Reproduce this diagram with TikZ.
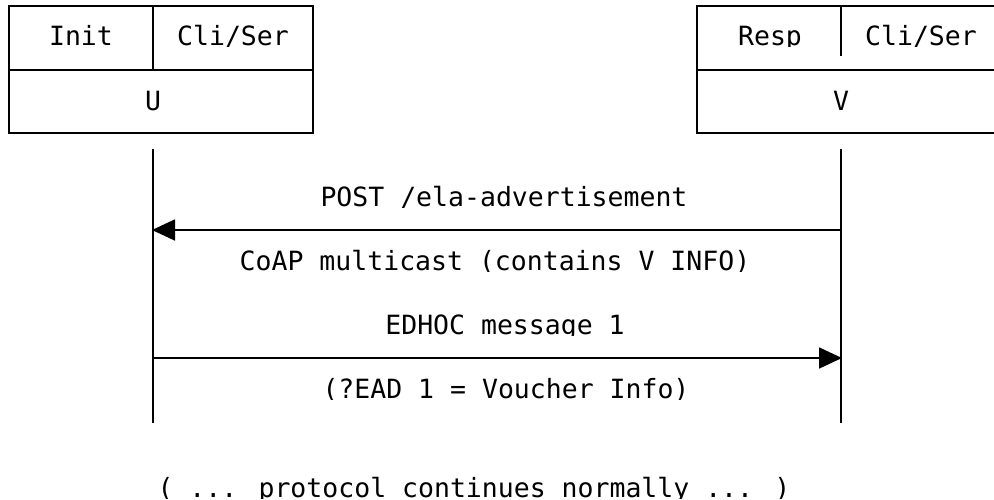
\documentclass[tikz,border=0pt]{standalone}
\usepackage{fontspec}
\newfontfamily\monofont{DejaVu Sans Mono}
\usetikzlibrary{arrows.meta}
\tikzset{
  wire/.style={line width=1.8pt, line cap=rect},
  msg/.style={line width=1.8pt, -{Triangle[length=23pt,width=21pt]}, shorten >=-1pt},
  lbl/.style={inner sep=0pt, anchor=base, font=\monofont\fontsize{26.5}{30}\selectfont},
}
\begin{document}
\begin{tikzpicture}[x=1pt,y=-1pt]
\useasboundingbox (0,0) rectangle (994,499);
\clip (0,0) rectangle (994,499);

% participant U
\draw[wire] (9,6) rectangle (313,133);
\draw[wire] (9,70) -- (313,70);
\draw[wire] (153,6) -- (153,70);

% participant V (runs off the right edge)
\draw[wire] (1010,6) -- (697,6) -- (697,133) -- (1010,133);
\draw[wire] (697,70) -- (1010,70);
\draw[wire] (841,6) -- (841,55);

% lifelines
\coordinate (utop) at (153,149);
\coordinate (ubot) at (153,423);
\coordinate (vtop) at (841,149);
\coordinate (vbot) at (841,423);
\draw[line width=1.8pt] (utop) -- (ubot);
\draw[line width=1.8pt] (vtop) -- (vbot);

% messages
\coordinate (u1) at (153,230);
\coordinate (v1) at (841,230);
\coordinate (u2) at (153,358);
\coordinate (v2) at (841,358);
\draw[msg] (v1) -- (u1);
\draw[msg] (u2) -- (v2);

% labels, cut off at their baselines
\begin{scope}
\clip (0,18) rectangle (994,46)
      (0,84) rectangle (994,111)
      (0,180) rectangle (994,207)
      (0,244) rectangle (994,271)
      (0,308) rectangle (994,335)
      (0,372) rectangle (994,399)
      (0,470) rectangle (994,498);
\node[lbl] (init)  at (81,45)   {Init};
\node[lbl] (cs1)   at (233,45)  {Cli/Ser};
\node[lbl] (resp)  at (770,45)  {Resp};
\node[lbl] (cs2)   at (921,45)  {Cli/Ser};
\node[lbl] (uname) at (153,110) {U};
\node[lbl] (vname) at (841,110) {V};
\node[lbl] (m1a)   at (504,206) {POST /ela-advertisement};
\node[lbl] (m1b)   at (495,270) {CoAP multicast (contains V INFO)};
\node[lbl] (m2a)   at (505,334) {EDHOC message 1};
\node[lbl] (m2b)   at (506,398) {(?EAD 1 = Voucher Info)};
\node[lbl] (more)  at (474,497) {( ... protocol continues normally ... )};
\end{scope}
\end{tikzpicture}
\end{document}
